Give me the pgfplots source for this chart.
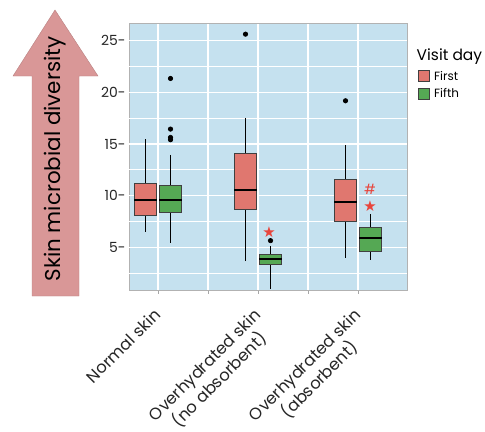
\documentclass[border=0pt]{standalone}
\usepackage{pgfplots}
\pgfplotsset{compat=1.18}
\usepgfplotslibrary{statistics}
\usepackage{fontspec}
\setmainfont{Poppins}
\newfontfamily\symfont{DejaVu Sans}
\definecolor{boxred}{HTML}{E0776F}
\definecolor{boxgreen}{HTML}{55A854}
\definecolor{panel}{HTML}{C5E1EF}
\definecolor{arrowc}{HTML}{D99797}
\definecolor{starred}{HTML}{E8453C}
\pgfplotsset{
  mybox/.style={forget plot, fill=#1, draw=black!75, line width=0.7bp,
    mark=*, mark size=2.2bp, mark options={fill=black, draw=black, solid},
    boxplot/every median/.style={draw=black, line width=1.8bp},
    boxplot/every whisker/.style={draw=black, line width=1bp}},
  hgrid/.style={forget plot, draw=white, line width=1.2bp, mark=none},
}
\begin{document}
\begin{tikzpicture}[x=1bp,y=1bp]
\path[use as bounding box] (0,0) rectangle (485,431);
% arrow (decoration)
\fill[arrowc, draw=arrowc!85!black, line width=0.4bp]
  (55,421) -- (13,355) -- (32,355) -- (32,135) -- (79,135) -- (79,355) -- (98,355) -- cycle;
\node[rotate=90, font=\fontsize{21.5}{24}\selectfont, text=black] at (55,272) {Skin microbial diversity};
\begin{axis}[
  at={(129,136)}, anchor=south west,
  scale only axis, width=278bp, height=267bp,
  xmin=-0.29, xmax=2.49, ymin=0.82, ymax=26.67,
  axis background/.style={fill=panel},
  axis line style={draw=black!30, line width=0.6bp},
  xtick={0,0.5,1,1.5,2},
  xticklabels={Normal skin,, Overhydrated skin\\(no absorbent),, Overhydrated skin\\(absorbent)},
  xtick pos=bottom,
  ytick={5,10,15,20,25},
  yticklabels={5-,10-,15-,20-,25-},
  xmajorgrids=true, ymajorgrids=false,
  major grid style={draw=white, line width=1.2bp},
  tick style={draw=black!35, line width=0.5bp},
  ytick style={draw=none},
  major tick length=3bp,
  tick align=outside,
  /pgf/number format/assume math mode=true,
  yticklabel style={font=\fontsize{14}{16}\selectfont, text=black!85, xshift=3bp},
  xticklabel style={font=\fontsize{16.5}{18}\selectfont, xshift=-5bp, yshift=-12bp, rotate=45, anchor=north east, align=center, text=black!85, inner sep=1bp},
  boxplot/draw direction=y,
  boxplot/box extend=0.225,
  boxplot/whisker extend=0,
  legend style={at={(1.037,0.83)}, anchor=north west, draw=none, fill=none,
    font=\fontsize{12}{14}\selectfont, row sep=3bp, inner sep=0pt,
    /tikz/every odd column/.append style={column sep=3bp},
    legend cell align=left},
  legend image code/.code={\draw[#1] (0bp,-5bp) rectangle (11bp,6bp);},
  clip=false,
]
% horizontal grid lines (major and minor)
\addplot[hgrid] coordinates {(-0.29,2.5) (2.49,2.5)};
\addplot[hgrid] coordinates {(-0.29,5) (2.49,5)};
\addplot[hgrid] coordinates {(-0.29,7.5) (2.49,7.5)};
\addplot[hgrid] coordinates {(-0.29,10) (2.49,10)};
\addplot[hgrid] coordinates {(-0.29,12.5) (2.49,12.5)};
\addplot[hgrid] coordinates {(-0.29,15) (2.49,15)};
\addplot[hgrid] coordinates {(-0.29,17.5) (2.49,17.5)};
\addplot[hgrid] coordinates {(-0.29,20) (2.49,20)};
\addplot[hgrid] coordinates {(-0.29,22.5) (2.49,22.5)};
\addplot[hgrid] coordinates {(-0.29,25) (2.49,25)};
% Normal skin
\addplot[mybox=boxred,
  boxplot prepared={draw position=-0.125, lower whisker=6.52, lower quartile=8.13, median=9.58, upper quartile=11.19, upper whisker=15.48}]
  coordinates {};
\addplot[mybox=boxgreen,
  boxplot prepared={draw position=0.125, lower whisker=5.45, lower quartile=8.36, median=9.58, upper quartile=11.03, upper whisker=13.97}]
  coordinates {(0,21.35) (0,16.45) (0,15.64) (0,15.42)};
% Overhydrated, no absorbent
\addplot[mybox=boxred,
  boxplot prepared={draw position=0.875, lower whisker=3.65, lower quartile=8.71, median=10.55, upper quartile=14.13, upper whisker=17.57}]
  coordinates {(0,25.64)};
\addplot[mybox=boxgreen,
  boxplot prepared={draw position=1.125, lower whisker=0.98, lower quartile=3.39, median=3.88, upper quartile=4.33, upper whisker=5.16}]
  coordinates {(0,5.65)};
% Overhydrated, absorbent
\addplot[mybox=boxred,
  boxplot prepared={draw position=1.875, lower whisker=4.0, lower quartile=7.49, median=9.36, upper quartile=11.55, upper whisker=14.93}]
  coordinates {(0,19.19)};
\addplot[mybox=boxgreen,
  boxplot prepared={draw position=2.125, lower whisker=3.78, lower quartile=4.62, median=5.91, upper quartile=6.94, upper whisker=8.23}]
  coordinates {};
% significance markers
\addplot[forget plot, only marks, mark=none, point meta=explicit symbolic,
  nodes near coords, nodes near coords align=center,
  every node near coord/.append style={text=starred, font=\symfont\fontsize{15}{15}\selectfont, inner sep=0pt, anchor=center}]
  table[meta=label] {
x y label
1.11 6.5 ★
2.12 8.97 ★
};
\addplot[forget plot, only marks, mark=none, point meta=explicit symbolic,
  nodes near coords, nodes near coords align=center,
  every node near coord/.append style={text=starred, font=\fontsize{14}{14}\selectfont, inner sep=0pt, anchor=center}]
  table[meta=label] {
x y label
2.12 10.58 \#
};
\addlegendimage{fill=boxred, draw=black!75, line width=0.7bp}
\addlegendentry{First}
\addlegendimage{fill=boxgreen, draw=black!75, line width=0.7bp}
\addlegendentry{Fifth}
\end{axis}
\node[anchor=base west, font=\fontsize{15.5}{18}\selectfont, inner sep=0pt] at (416.5,370.5) {Visit day};
\end{tikzpicture}
\end{document}
